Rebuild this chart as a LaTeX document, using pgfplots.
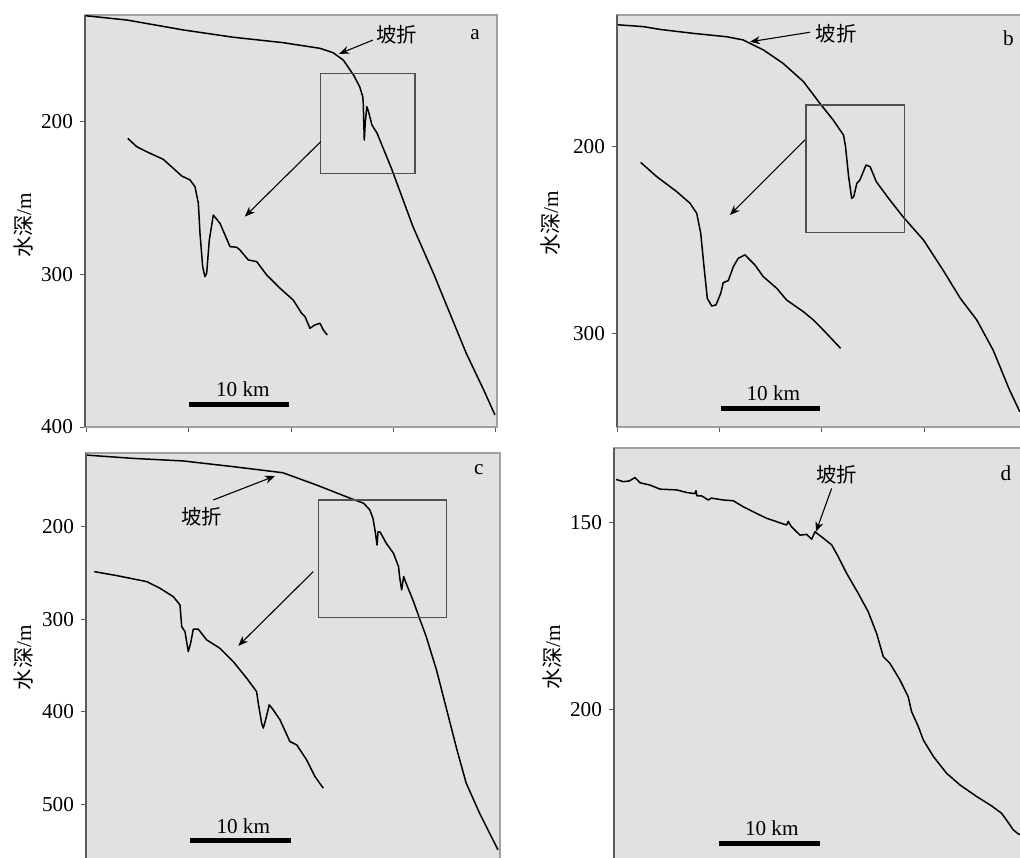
\documentclass[border=0pt]{standalone}
\usepackage{fontspec}
\setmainfont{Liberation Serif}
\newfontfamily\cjk{Noto Sans CJK SC}
\usepackage{pgfplots}
\pgfplotsset{compat=1.18}
\usetikzlibrary{arrows.meta}
\definecolor{bg}{RGB}{225,225,225}
\definecolor{framec}{RGB}{160,160,160}
\definecolor{spine}{RGB}{90,90,90}
\definecolor{boxc}{RGB}{80,80,80}
\pgfplotsset{
  panel/.style={
    scale only axis, anchor=north west,
    y dir=reverse,
    axis background/.style={fill=bg},
    axis line style={draw=framec, line width=0.6pt},
    tick style={draw=spine, line width=0.5pt},
    tick align=outside, major tick length=2.5pt,
    xtick pos=bottom, ytick pos=left,
    xtick={0,10,20,30,40}, xticklabels={},
    ticklabel style={font=\fontsize{10.6}{12}\selectfont},
    /pgf/number format/assume math mode=true,
    label style={font=\fontsize{10.6}{12}\selectfont},
    ylabel={{\cjk 水深}/m},
    after end axis/.append code={\draw[spine, line width=0.7pt] (rel axis cs:0,0)--(rel axis cs:0,1);},
  },
  curve/.style={black, line width=0.75pt, line join=round, no marks},
}
\tikzset{
  ann/.style={-{Stealth[length=5pt,width=4pt]}, line width=0.55pt, black},
  sbar/.style={line width=2.5pt, black},
  txt/.style={font=\fontsize{10.6}{12}\selectfont, inner sep=0pt},
  cjktxt/.style={font=\cjk\fontsize{10.2}{12}\selectfont, inner sep=0pt},
  inset/.style={boxc, line width=0.6pt},
}
\begin{document}
\begin{tikzpicture}
\useasboundingbox (0,0) rectangle (510pt,-428.5pt);
% ---------- panel a ----------
\begin{axis}[panel, at={(42.5pt,-7.5pt)}, width=206pt, height=206pt,
  xmin=-0.1, xmax=40.1, ymin=130, ymax=400, ytick={200,300,400},
  ylabel style={at={(rel axis cs:-0.15,0.49)}, anchor=center}]
\addplot[curve] coordinates {(0,130.5)(4.0,133.3)(9.5,139.8)(14.4,144.6)(19.2,148.1)(22.8,151.8)(24.1,154.7)(25.1,159.5)(26.1,169.3)(26.7,177.0)(27.0,183.5)(27.05,188)(27.15,212)(27.25,200)(27.4,190.1)(27.55,193)(27.9,202.1)(28.4,207.5)(29.8,230.5)(31.9,268.7)(33.9,299.3)(35.5,325.5)(37.1,351.7)(38.8,375.7)(39.9,392.1)};
\addplot[curve] coordinates {(4.07,210.8)(4.95,216.3)(5.92,219.6)(7.54,224.6)(8.52,230.5)(9.34,235.5)(10.15,238.1)(10.63,242.5)(10.96,253.4)(11.12,273.1)(11.38,294.9)(11.6,301.5)(11.77,299.3)(12.03,277.4)(12.42,261.1)(13.07,266.5)(14.05,281.8)(14.7,282.2)(15.02,284)(15.83,290.5)(16.65,291.6)(17.63,300.4)(18.93,309.1)(20.22,316.8)(21.04,325.5)(21.37,327.7)(21.85,335.3)(22.34,333.1)(22.83,332)(23.15,336.4)(23.54,339.7)};
\draw[inset] (axis cs:22.9,168.2) rectangle (axis cs:32.1,233.7);
\draw[ann] (axis cs:22.9,213.0) -- (axis cs:15.5,262.1);
\draw[ann] (axis cs:28.0,146.4) -- (axis cs:24.7,155.4);
\node[cjktxt] at (axis cs:30.3,143) {坡折};
\node[txt] at (axis cs:37.95,143) {a};
\draw[sbar] (axis cs:10,385) -- (axis cs:19.85,385);
\node[txt] at (axis cs:15.3,375.3) {10 km};
\end{axis}
% ---------- panel b ----------
\begin{axis}[panel, at={(308.5pt,-7.5pt)}, width=206.5pt, height=206pt,
  xmin=0, xmax=40.3, ymin=130, ymax=350, ytick={200,300},
  ylabel style={at={(rel axis cs:-0.162,0.494)}, anchor=center}]
\addplot[curve] coordinates {(0,135.2)(2.57,136.2)(4.2,137.7)(7.44,139.8)(10.7,141.6)(12.3,143.3)(14.3,148.7)(16.2,155.8)(18.2,165.6)(19.8,177.2)(21.1,186.1)(22.1,194.1)(22.3,200.3)(22.6,216.3)(22.9,227.9)(23.1,227)(23.4,219.9)(23.7,218.1)(24.3,210.1)(24.7,211)(25.3,219)(26.5,227.9)(27.9,237.7)(29.9,250.1)(31.8,266.1)(33.5,281.3)(35.1,292.8)(36.7,308.9)(38.3,330.2)(39.3,341.8)};
\addplot[curve] coordinates {(2.31,208.7)(3.87,216.3)(5.82,224.3)(7.12,230.5)(7.78,235.9)(8.17,246.6)(8.49,264.4)(8.81,281.3)(9.24,285.4)(9.66,284.8)(10.12,278.6)(10.37,272.9)(10.86,271.8)(11.35,264.4)(11.83,259.9)(12.49,258.1)(13.46,263.5)(14.27,269.7)(15.58,275.9)(16.55,282.2)(18.18,288.4)(19.15,292.8)(20.13,298.2)(21.82,308)};
\draw[inset] (axis cs:18.44,178.1) rectangle (axis cs:28.03,246.0);
\draw[ann] (axis cs:18.34,196.7) -- (axis cs:11.02,236.8);
\draw[ann] (axis cs:18.83,139.2) -- (axis cs:12.98,144.3);
\node[cjktxt] at (axis cs:21.4,139.8) {坡折};
\node[txt] at (axis cs:38.2,142.4) {b};
\draw[sbar] (axis cs:10.1,340) -- (axis cs:19.8,340);
\node[txt] at (axis cs:15.25,332) {10 km};
\end{axis}
% ---------- panel c ----------
\begin{axis}[panel, at={(43pt,-226.5pt)}, width=207pt, height=208pt,
  xmin=0, xmax=40.4, ymin=120, ymax=570, ytick={200,300,400,500},
  ylabel style={at={(rel axis cs:-0.152,0.508)}, anchor=center}]
\addplot[curve] coordinates {(0,122.2)(4.6,125.8)(9.5,128.6)(14.4,134.8)(19.2,141.3)(22.5,154.6)(25.8,169)(27.1,174.4)(27.7,181.6)(28.0,190.6)(28.2,203.2)(28.4,219.5)(28.5,205.1)(28.7,205.5)(29.3,217.6)(30.0,228.4)(30.5,242.9)(30.6,253.7)(30.8,268.1)(31.0,253.7)(31.3,262.7)(31.9,278.9)(32.6,300.5)(33.2,318.6)(34.2,354.6)(35.2,397.8)(36.2,441.1)(37.1,477.1)(38.4,509.5)(40.2,549.2)};
\addplot[curve] coordinates {(0.81,248.3)(3.0,252.6)(5.92,259.1)(7.22,266.3)(8.52,275.4)(9.17,284.3)(9.34,307.8)(9.66,313.2)(9.98,334.8)(10.21,325.7)(10.47,310.6)(10.96,310.6)(11.78,322.2)(13.07,331.2)(14.37,345.6)(15.68,363.6)(16.65,378.1)(16.81,390.6)(17.14,412.2)(17.3,417.6)(17.53,408.6)(17.88,392.4)(18.27,397.8)(18.93,408.6)(19.9,432.1)(20.56,435.7)(21.53,451.9)(22.34,469.9)(23.15,482.5)};
\draw[inset] (axis cs:22.66,170.8) rectangle (axis cs:35.19,298);
\draw[ann] (axis cs:22.18,248.3) -- (axis cs:14.86,328.6);
\draw[ann] (axis cs:12.42,170.8) -- (axis cs:18.44,144.9);
\node[cjktxt] at (axis cs:11.29,188.9) {坡折};
\node[txt] at (axis cs:38.34,138.4) {c};
\draw[sbar] (axis cs:10.15,539.1) -- (axis cs:20,539.1);
\node[txt] at (axis cs:15.35,524) {10 km};
\end{axis}
% ---------- panel d ----------
\begin{axis}[panel, at={(307pt,-224pt)}, width=208pt, height=215pt,
  xmin=0, xmax=40.6, ymin=130, ymax=245, ytick={150,200},
  ylabel style={at={(rel axis cs:-0.149,0.513)}, anchor=center}]
\addplot[curve] coordinates {(0.2,138.4)(0.91,139)(1.5,138.8)(2.05,137.9)(2.54,139.3)(3.51,139.9)(4.49,141)(6.12,141.2)(7.09,141.9)(7.9,142.2)(8.0,141.4)(8.1,142.8)(8.55,142.8)(9.2,143.9)(9.5,143.4)(10.67,143.9)(11.64,144.1)(12.61,145.7)(13.92,147.5)(14.9,148.8)(16.85,150.6)(17.0,149.6)(17.3,151.0)(18.15,153.3)(18.8,153.1)(19.29,154.4)(19.61,152.4)(20.42,154.1)(21.24,155.9)(21.89,159.1)(22.7,163.5)(23.84,168.9)(24.81,173.8)(25.63,179.6)(26.28,185.8)(26.93,187.6)(27.9,192)(28.71,196.5)(29.04,200.5)(29.7,204.5)(30.19,208.1)(31.17,212.5)(32.46,217)(33.76,220.1)(35.39,223.2)(36.85,225.7)(37.83,227.7)(38.31,229.5)(38.96,232.1)(39.45,233.2)(40.0,233.6)};
\draw[ann] (axis cs:21.24,140.8) -- (axis cs:19.71,152.4);
\node[cjktxt] at (axis cs:21.72,137.2) {坡折};
\node[txt] at (axis cs:38.24,136.8) {d};
\draw[sbar] (axis cs:10.24,235.7) -- (axis cs:20.1,235.7);
\node[txt] at (axis cs:15.4,231.7) {10 km};
\end{axis}
\end{tikzpicture}
\end{document}
